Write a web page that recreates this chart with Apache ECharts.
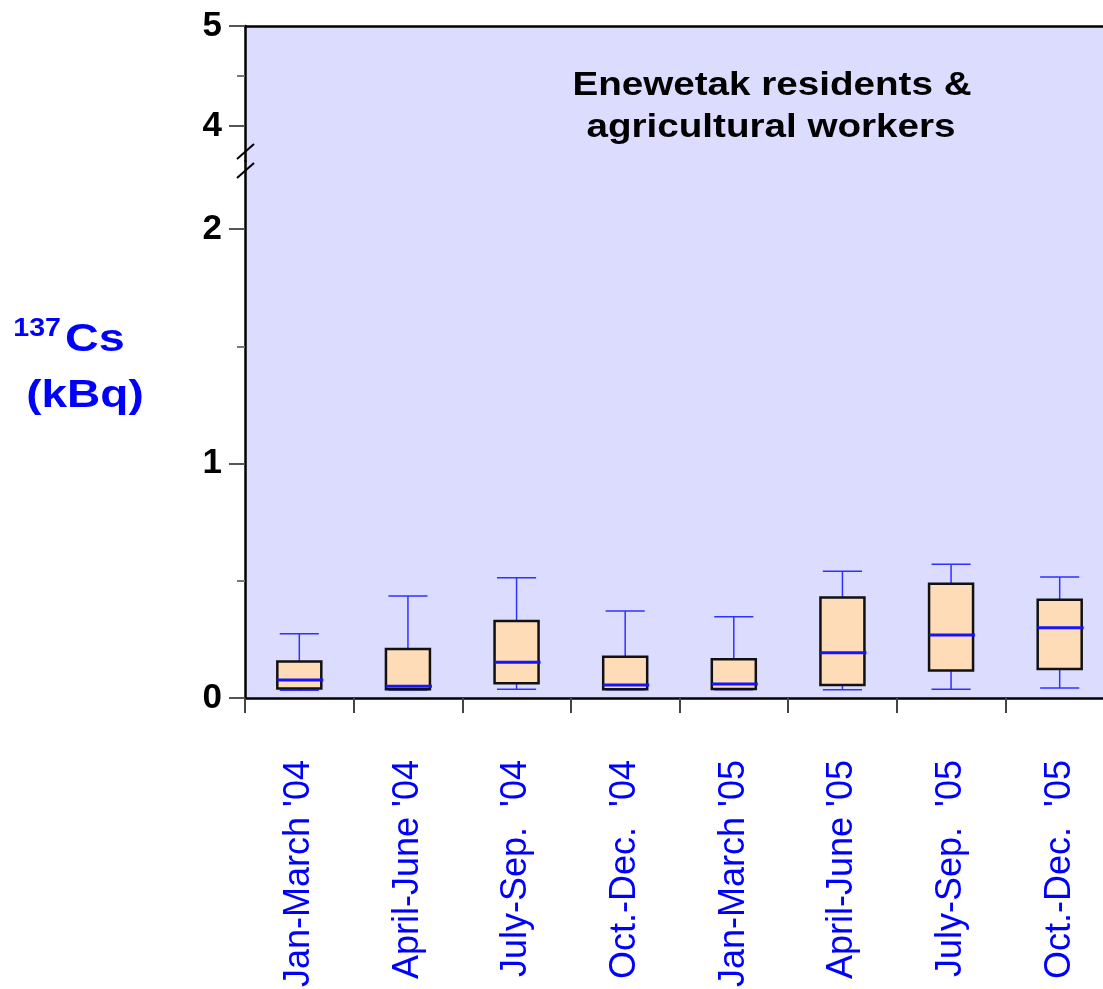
<!DOCTYPE html>
<html>
<head>
<meta charset="utf-8">
<title>137Cs - Enewetak residents</title>
<script src="https://cdn.jsdelivr.net/npm/echarts@6.0.0/dist/echarts.min.js"></script>
<style>
  html, body { margin: 0; padding: 0; background: #fff; }
  #chart { width: 1103px; height: 989px; }
</style>
</head>
<body>
<div id="chart"></div>
<script>
// quarters
const categories = ["Jan-March '04", "April-June '04", "July-Sep.  '04", "Oct.-Dec.  '04",
                    "Jan-March '05", "April-June '05", "July-Sep.  '05", "Oct.-Dec.  '05"];

// box plot values, kBq
const whiskerLow  = [0.033, 0.034, 0.037, 0.035, 0.035, 0.035, 0.037, 0.043];
const q1          = [0.041, 0.037, 0.063, 0.037, 0.038, 0.055, 0.117, 0.124];
const median      = [0.077, 0.050, 0.152, 0.055, 0.060, 0.193, 0.269, 0.300];
const q3          = [0.156, 0.209, 0.328, 0.176, 0.165, 0.429, 0.487, 0.419];
const whiskerHigh = [0.274, 0.435, 0.513, 0.371, 0.347, 0.540, 0.570, 0.516];

// broken y axis: lower part and upper part
const lowerTicks = [0, 1, 2];
const lowerMinorTicks = [0.5, 1.5];
const upperTicks = [4, 5];
const upperMinorTicks = [4.5];

const boxData = categories.map((c, i) => [i, whiskerLow[i], q1[i], median[i], q3[i], whiskerHigh[i]]);

const FONT = '"Liberation Sans", Arial, sans-serif';
const bg = '#dcdcff';

function renderBox(params, api) {
  const x = api.value(0);
  const pLow = api.coord([x, api.value(1)]);
  const pQ1 = api.coord([x, api.value(2)]);
  const pMed = api.coord([x, api.value(3)]);
  const pQ3 = api.coord([x, api.value(4)]);
  const pHigh = api.coord([x, api.value(5)]);
  const band = api.size([1, 0])[0];
  const boxW = band * 0.405;
  const capW = band * 0.36;
  const cx = pMed[0];
  const blue = { stroke: '#3030ff', lineWidth: 1.5 };
  return {
    type: 'group',
    children: [
      { type: 'line', shape: { x1: cx, y1: pQ3[1], x2: cx, y2: pHigh[1] }, style: blue },
      { type: 'line', shape: { x1: cx, y1: pLow[1], x2: cx, y2: pQ1[1] }, style: blue },
      { type: 'line', shape: { x1: cx - capW / 2, y1: pHigh[1], x2: cx + capW / 2, y2: pHigh[1] }, style: blue },
      { type: 'line', shape: { x1: cx - capW / 2, y1: pLow[1], x2: cx + capW / 2, y2: pLow[1] }, style: blue },
      { type: 'rect', shape: { x: cx - boxW / 2, y: pQ3[1], width: boxW, height: pQ1[1] - pQ3[1] },
        style: { fill: '#ffdcb8', stroke: '#111', lineWidth: 2.5 } },
      { type: 'line', shape: { x1: cx - boxW / 2, y1: pMed[1], x2: cx + boxW / 2 + 2, y2: pMed[1] },
        style: { stroke: '#1414ff', lineWidth: 3 } }
    ]
  };
}

function yMain(grid, min, max, ticks) {
  return {
    type: 'value', gridIndex: grid, position: 'left', min: min, max: max,
    axisLine: { show: true, lineStyle: { color: '#000', width: 2.5 } },
    axisTick: { show: true, customValues: ticks, length: 16, lineStyle: { color: '#555', width: 2 } },
    axisLabel: { customValues: ticks, margin: 23, fontSize: 35, fontWeight: 'bold', color: '#000', fontFamily: FONT },
    splitLine: { show: false }
  };
}

function yMinor(grid, min, max, ticks) {
  return {
    type: 'value', gridIndex: grid, position: 'left', min: min, max: max,
    axisLine: { show: false },
    axisTick: { show: true, customValues: ticks, length: 8, lineStyle: { color: '#777', width: 2 } },
    axisLabel: { show: false },
    splitLine: { show: false }
  };
}

const chart = echarts.init(document.getElementById('chart'));

// plot runs a little past the right edge of the picture
chart.setOption({
  backgroundColor: '#fff',
  animation: false,
  grid: [
    { left: 245, width: 869, top: 26, height: 135, outerBoundsMode: 'none',
      show: true, backgroundColor: bg, borderWidth: 0 },
    { left: 245, width: 869, top: 161, bottom: 291, outerBoundsMode: 'none',
      show: true, backgroundColor: bg, borderWidth: 0 }
  ],
  xAxis: [
    {
      type: 'category', gridIndex: 0, position: 'top', data: categories,
      axisLine: { show: true, lineStyle: { color: '#000', width: 2.5 } },
      axisTick: { show: false }, axisLabel: { show: false }
    },
    {
      type: 'category', gridIndex: 1, data: categories, boundaryGap: true,
      axisLine: { show: true, lineStyle: { color: '#000', width: 2.5 } },
      axisTick: { show: true, length: 15, lineStyle: { color: '#444', width: 2 } },
      axisLabel: { rotate: 90, margin: 62, fontSize: 36, color: '#0000ff', fontFamily: FONT, interval: 0 }
    }
  ],
  yAxis: [
    yMain(0, 3.65, 5, upperTicks),
    yMinor(0, 3.65, 5, upperMinorTicks),
    yMain(1, 0, 2.29, lowerTicks),
    yMinor(1, 0, 2.29, lowerMinorTicks)
  ],
  series: [
    {
      type: 'custom',
      xAxisIndex: 1,
      yAxisIndex: 2,
      data: boxData,
      encode: { x: 0, y: [1, 2, 3, 4, 5] },
      renderItem: renderBox,
      clip: false
    }
  ],
  graphic: [
    // axis break marks
    { type: 'line', shape: { x1: 237, y1: 159, x2: 254, y2: 144 }, style: { stroke: '#000', lineWidth: 2 } },
    { type: 'line', shape: { x1: 237, y1: 178, x2: 254, y2: 163 }, style: { stroke: '#000', lineWidth: 2 } },
    // panel text
    { type: 'text', x: 772, y: 86, scaleX: 1.17,
      style: { text: 'Enewetak residents &', textAlign: 'center', textVerticalAlign: 'middle',
               font: 'bold 33px ' + FONT, fill: '#000' } },
    { type: 'text', x: 771, y: 128, scaleX: 1.17,
      style: { text: 'agricultural workers', textAlign: 'center', textVerticalAlign: 'middle',
               font: 'bold 33px ' + FONT, fill: '#000' } },
    // y axis name
    { type: 'text', x: 61, y: 329, scaleX: 1.1,
      style: { text: '137', textAlign: 'right', textVerticalAlign: 'middle',
               font: 'bold 26px ' + FONT, fill: '#0000ff' } },
    { type: 'text', x: 65, y: 340, scaleX: 1.2,
      style: { text: 'Cs', textAlign: 'left', textVerticalAlign: 'middle',
               font: 'bold 39px ' + FONT, fill: '#0000ff' } },
    { type: 'text', x: 85, y: 396, scaleX: 1.18,
      style: { text: '(kBq)', textAlign: 'center', textVerticalAlign: 'middle',
               font: 'bold 39px ' + FONT, fill: '#0000ff' } }
  ]
});
</script>
</body>
</html>
